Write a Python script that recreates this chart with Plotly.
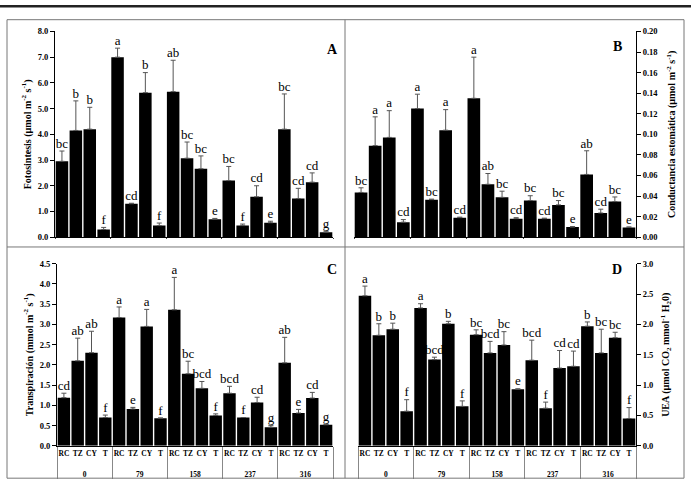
import plotly.graph_objects as go

W, H = 691, 492

group_labels = ["0", "79", "158", "237", "316"]
sub_labels = ["RC", "TZ", "CY", "T"]

# A - Fotosintesis
foto = [2.95, 4.15, 4.2, 0.3, 7.0, 1.3, 5.62, 0.45, 5.66, 3.07,
        2.66, 0.7, 2.2, 0.45, 1.57, 0.56, 4.2, 1.5, 2.14, 0.19]
foto_err = [0.4, 1.15, 0.85, 0.08, 0.35, 0.02, 0.78, 0.1, 1.22, 0.63,
            0.5, 0.03, 0.55, 0.06, 0.43, 0.06, 1.37, 0.4, 0.36, 0.04]
foto_let = ["bc", "b", "b", "f", "a", "cd", "b", "f", "ab", "bc",
            "bc", "e", "bc", "f", "cd", "e", "bc", "cd", "cd", "g"]

# B - Conductancia estomatica
cond = [0.0435, 0.089, 0.097, 0.0146, 0.125, 0.0365, 0.104, 0.019, 0.135, 0.0514,
        0.0387, 0.018, 0.0356, 0.018, 0.0314, 0.0098, 0.061, 0.0235, 0.0346, 0.0095]
cond_err = [0.0045, 0.028, 0.026, 0.0025, 0.014, 0.0005, 0.02, 0.0005, 0.04, 0.0105,
            0.006, 0.001, 0.0047, 0.0005, 0.0042, 0.0005, 0.023, 0.0037, 0.0045, 0.0005]
cond_let = ["bc", "a", "a", "cd", "a", "bc", "a", "cd", "a", "ab",
            "bc", "cd", "bc", "cd", "bc", "e", "ab", "cd", "bc", "e"]

# C - Transpiracion
trans = [1.19, 2.1, 2.3, 0.7, 3.17, 0.91, 2.95, 0.68, 3.36, 1.78,
         1.42, 0.75, 1.3, 0.7, 1.07, 0.46, 2.05, 0.81, 1.18, 0.52]
trans_err = [0.11, 0.56, 0.53, 0.06, 0.26, 0.04, 0.42, 0.01, 0.8, 0.31,
             0.17, 0.04, 0.17, 0.0, 0.13, 0.04, 0.63, 0.09, 0.14, 0.01]
trans_let = ["cd", "ab", "ab", "f", "a", "e", "a", "f", "a", "bc",
             "bcd", "f", "bcd", "f", "cd", "g", "ab", "e", "cd", "g"]

# D - UEA
uea = [2.47, 1.82, 1.92, 0.57, 2.27, 1.42, 2.01, 0.65, 1.83, 1.53,
       1.66, 0.93, 1.41, 0.62, 1.28, 1.31, 1.97, 1.53, 1.78, 0.45]
uea_err = [0.16, 0.19, 0.1, 0.19, 0.07, 0.04, 0.04, 0.09, 0.08, 0.19,
           0.22, 0.01, 0.33, 0.1, 0.29, 0.25, 0.07, 0.39, 0.09, 0.18]
uea_let = ["a", "b", "b", "f", "a", "bcd", "b", "f", "bc", "bcd",
           "bc", "e", "bcd", "f", "cd", "cd", "b", "bc", "bc", "f"]

# inner labels get an empty second line so the group row sits lower
xcat = [[g for g in group_labels for _ in sub_labels],
        [f"{s}<br> " for _ in group_labels for s in sub_labels]]

SERIF = "Liberation Serif"


def px(x):
    return x / W


def py(y):
    return 1 - y / H


fig = go.Figure()

panels = [
    (foto, foto_err, foto_let, "x", "y"),
    (cond, cond_err, cond_let, "x2", "y2"),
    (trans, trans_err, trans_let, "x3", "y3"),
    (uea, uea_err, uea_let, "x4", "y4"),
]
for vals, errs, lets, xa, ya in panels:
    fig.add_trace(go.Bar(
        x=xcat, y=vals, xaxis=xa, yaxis=ya,
        marker=dict(color="black", line=dict(width=0)),
        error_y=dict(type="data", array=errs, arrayminus=[0] * len(errs),
                     symmetric=False, color="#555555", thickness=1, width=2.5),
        showlegend=False,
    ))
    fig.add_trace(go.Scatter(
        x=xcat, y=[v + e for v, e in zip(vals, errs)], xaxis=xa, yaxis=ya,
        mode="text", text=lets, textposition="top center",
        textfont=dict(family=SERIF, size=13, color="#000000"),
        cliponaxis=False, showlegend=False, hoverinfo="skip",
    ))

tickfont = dict(family=SERIF, size=8.5, color="black", weight="bold")
xtickfont = dict(family=SERIF, size=7.5, color="black", weight="bold")
titlefont = dict(family=SERIF, size=10, color="black", weight="bold")

xcommon = dict(type="multicategory", range=[-0.5, 19.5], showline=True, linecolor="black",
               linewidth=1, ticks="", tickangle=0, showgrid=False, zeroline=False,
               tickfont=xtickfont)
ycommon = dict(showline=True, linecolor="black", linewidth=1, ticks="outside", ticklen=4,
               tickwidth=1, tickcolor="black", showgrid=False, zeroline=False,
               tickfont=tickfont, title_font=titlefont)

top_dom = [py(237), py(27)]
bot_dom = [py(450), py(264)]

fig.update_layout(
    width=W, height=H,
    margin=dict(l=0, r=0, t=0, b=0),
    paper_bgcolor="white", plot_bgcolor="white",
    bargap=0.1,
    xaxis=dict(xcommon, domain=[px(55), px(333)], anchor="y", showticklabels=False),
    yaxis=dict(ycommon, domain=top_dom, anchor="x", range=[0, 8], dtick=1,
               tickformat=".1f", title=dict(text="Fotosintesis (µmol m<sup>-2</sup> s<sup>-1</sup>)", standoff=4)),
    xaxis2=dict(xcommon, domain=[px(354), px(636)], anchor="y2", showticklabels=False),
    yaxis2=dict(ycommon, domain=top_dom, anchor="x2", side="right", range=[0, 0.2], dtick=0.02,
                tickformat=".2f",
                title=dict(text="Conductancia estomática (µmol m<sup>-2</sup> s<sup>-1</sup>)", standoff=10)),
    xaxis3=dict(xcommon, domain=[px(57), px(333)], anchor="y3",
                showdividers=True, dividercolor="#888888", dividerwidth=1),
    yaxis3=dict(ycommon, domain=bot_dom, anchor="x3", range=[0, 4.5], dtick=0.5,
                tickformat=".1f", title=dict(text="Transpiración (mmol m<sup>-2</sup> s<sup>-1</sup>)", standoff=4)),
    xaxis4=dict(xcommon, domain=[px(358), px(636)], anchor="y4",
                showdividers=True, dividercolor="#888888", dividerwidth=1),
    yaxis4=dict(ycommon, domain=bot_dom, anchor="x4", side="right", range=[0, 3.0], dtick=0.5,
                tickformat=".1f",
                title=dict(text="UEA (µmol CO<sub>2</sub> mmol<sup>-1</sup> H<sub>2</sub>0)", standoff=9)),
)

# panel letters
for letter, (lx, ly) in zip("ABCD", [(332, 36), (624, 33), (332, 270), (624, 270)]):
    fig.add_annotation(x=px(lx), y=py(ly), xref="paper", yref="paper", text=f"<b>{letter}</b>",
                       showarrow=False, font=dict(family=SERIF, size=14, color="black"))

# frame, dividers and top rule
frame = dict(color="#777777", width=1)
fig.add_shape(type="rect", xref="paper", yref="paper", x0=px(7), x1=px(684), y0=py(483), y1=py(15),
              line=frame)
fig.add_shape(type="line", xref="paper", yref="paper", x0=px(345), x1=px(345), y0=py(483), y1=py(15),
              line=frame)
fig.add_shape(type="line", xref="paper", yref="paper", x0=px(7), x1=px(684), y0=py(247), y1=py(247),
              line=frame)
fig.add_shape(type="rect", xref="paper", yref="paper", x0=0, x1=1, y0=py(2.5), y1=1,
              line=dict(width=0), fillcolor="#222222")

fig.write_html("out.html", config={"displayModeBar": False},
               post_script="document.body.style.margin='0';")
